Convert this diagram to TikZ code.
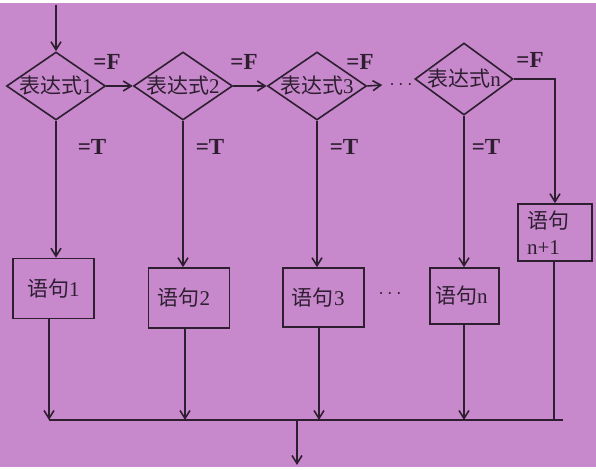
\documentclass[tikz,border=0pt]{standalone}
\usepackage{fontspec}
\setmainfont{Liberation Serif}
\newfontfamily\cjk{Noto Sans CJK SC}
\usetikzlibrary{shapes.geometric,arrows.meta}
\definecolor{bgpurple}{RGB}{200,136,204}
\definecolor{ink}{RGB}{45,30,48}
\newcommand{\zh}[1]{{\cjk #1}}
\tikzset{
	flow/.style = {draw=ink, line width=0.8pt},
	arr/.style = {flow, -{Straight Barb[length=4pt,width=5pt]}},
	cond/.style = {diamond, flow, minimum width=49.5pt, minimum height=34pt,
		inner xsep=-6pt, inner ysep=-3pt, text=ink, font=\fontsize{10.5}{12}\selectfont},
	stmt/.style = {rectangle, flow, minimum height=30pt, text width=31.5pt, align=left,
		inner xsep=4.5pt, text=ink, font=\fontsize{10.5}{13}\selectfont},
	tag/.style = {inner sep=0pt, text=ink, font=\bfseries\fontsize{11.5}{12}\selectfont}
}

\begin{document}
\begin{tikzpicture}[x=0.5pt,y=-0.5pt]
	\fill[white] (0,0) rectangle (596,470);
	\fill[bgpurple] (0,3) rectangle (596,467);

	\node[cond] (C1) at (56,86) {\zh{表达式}1};
	\node[cond] (C2) at (183,86) {\zh{表达式}2};
	\node[cond] (C3) at (317,86) {\zh{表达式}3};
	\node[cond, minimum width=49pt, minimum height=36pt] (Cn) at (464,79) {\zh{表达式}n};
	\node[text=ink] (dotsF) at (401,85) {$\cdots$};

	\node[stmt, align=center] (S1) at (53.5,288.5) {\zh{语句}1};
	\node[stmt, minimum height=30pt] (S2) at (189,298) {\zh{语句}2};
	\node[stmt, minimum height=29.5pt] (S3) at (323.5,297.5) {\zh{语句}3};
	\node[stmt, minimum height=28pt, text width=29.5pt, inner xsep=2.5pt] (Sn) at (464.5,296) {\zh{语句}n};
	\node[stmt, minimum height=28.5pt, text width=28pt] (Sn1) at (555,232.5) {\zh{语句}\\n+1};
	\node[text=ink] (dotsS) at (390,294) {$\cdots$};

	\node[tag] (F1) at (107,62) {=F};
	\node[tag] (F2) at (244,62) {=F};
	\node[tag] (F3) at (360,62) {=F};
	\node[tag] (Fn) at (530,60) {=F};
	\node[tag] (T1) at (92,147) {=T};
	\node[tag] (T2) at (210,147) {=T};
	\node[tag] (T3) at (344,147) {=T};
	\node[tag] (Tn) at (486,147) {=T};

	\coordinate (start) at (56,5);
	\coordinate (M1) at (49,420);
	\coordinate (M2) at (185,420);
	\coordinate (M3) at (319,420);
	\coordinate (Mn) at (464,420);
	\coordinate (Mn1) at (554,420);
	\coordinate (busEnd) at (563,420);
	\coordinate (outTop) at (297,420);
	\coordinate (outEnd) at (297,465);

	\draw[arr] (start) -- (C1.north);
	\draw[arr] (C1.east) -- (C2.west);
	\draw[arr] (C2.east) -- (C3.west);
	\draw[arr] (C3.east) -- (dotsF.west);
	\draw[arr] (Cn.east) -| (Sn1.north);

	\draw[arr] (C1.south) -- (C1.south |- S1.north);
	\draw[arr] (C2.south) -- (C2.south |- S2.north);
	\draw[arr] (C3.south) -- (C3.south |- S3.north);
	\draw[arr] (Cn.south) -- (Cn.south |- Sn.north);

	\draw[arr] (S1.south -| M1) -- (M1);
	\draw[arr] (S2.south -| M2) -- (M2);
	\draw[arr] (S3.south -| M3) -- (M3);
	\draw[arr] (Sn.south -| Mn) -- (Mn);
	\draw[flow] (Sn1.south -| Mn1) -- (Mn1);
	\draw[flow] (M1) -- (busEnd);
	\draw[arr] (outTop) -- (outEnd);
\end{tikzpicture}
\end{document}
